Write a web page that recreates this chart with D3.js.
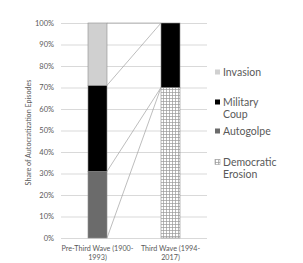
<!DOCTYPE html>
<html>
<head>
<meta charset="utf-8">
<script src="https://cdn.jsdelivr.net/npm/d3@7"></script>
<style>
  body { margin: 0; background: #fff; overflow: hidden; }
  svg { display: block; }
  svg text { font-family: Lato, "Open Sans", sans-serif; fill: #595959; }
</style>
</head>
<body>
<svg width="303" height="263"></svg>
<script>
// data
const categories = ['Pre-Third Wave (1900-1993)', 'Third Wave (1994-2017)'];
const categoryLines = [['Pre-Third Wave (1900-', '1993)'], ['Third Wave (1994-', '2017)']];
// stack order from the bottom up
const seriesNames = ['Democratic Erosion', 'Autogolpe', 'Military Coup', 'Invasion'];
const democraticErosion = [0, 70];
const autogolpe = [31, 0];
const militaryCoup = [40, 30];
const invasion = [29, 0];
const yTicks = [0, 10, 20, 30, 40, 50, 60, 70, 80, 90, 100];
// legend top-down
const legendNames = ['Invasion', 'Military Coup', 'Autogolpe', 'Democratic Erosion'];

const rows = categories.map((c, i) => ({
  category: c,
  'Democratic Erosion': democraticErosion[i],
  'Autogolpe': autogolpe[i],
  'Military Coup': militaryCoup[i],
  'Invasion': invasion[i]
}));

const fills = {
  'Invasion': '#d0d0d0',
  'Military Coup': '#000000',
  'Autogolpe': '#6b6b6b',
  'Democratic Erosion': 'url(#grid)'
};

const svg = d3.select('svg');
const margin = {top: 23, left: 61, right: 96, bottom: 25};
const width = +svg.attr('width');
const height = +svg.attr('height');
const innerWidth = width - margin.left - margin.right;
const innerHeight = height - margin.top - margin.bottom;

// grid pattern for democratic erosion
const defs = svg.append('defs');
const pat = defs.append('pattern')
  .attr('id', 'grid')
  .attr('patternUnits', 'userSpaceOnUse')
  .attr('width', 3).attr('height', 3);
pat.append('rect').attr('width', 3).attr('height', 3).attr('fill', '#fff');
pat.append('path')
  .attr('d', 'M0,0.5H3M0.5,0V3')
  .attr('stroke', '#9a9a9a').attr('stroke-width', 0.7);

const g = svg.append('g').attr('transform', `translate(${margin.left},${margin.top})`);

const x = d3.scaleBand().domain(categories).range([0, innerWidth]).padding(0);
const y = d3.scaleLinear().domain([0, 100]).range([innerHeight, 0]);
const barW = 19;
const barX = c => x(c) + (x.bandwidth() - barW) / 2;

// gridlines and y labels
const yAxis = g.append('g')
  .call(d3.axisLeft(y).tickValues(yTicks).tickFormat(d => d + '%').tickSize(-innerWidth).tickPadding(7));
yAxis.attr('font-size', 7.5).attr('font-family', null);
yAxis.select('.domain').remove();
yAxis.selectAll('.tick line').attr('stroke', '#d9d9d9').attr('stroke-width', 1);
yAxis.selectAll('.tick text').attr('fill', '#595959');

// stacked bars
const stack = d3.stack().keys(seriesNames)(rows);

g.append('g').selectAll('g')
  .data(stack)
  .enter().append('g')
    .attr('fill', s => fills[s.key])
  .selectAll('rect')
  .data(s => s.filter(d => d[1] - d[0] > 0))
  .enter().append('rect')
    .attr('x', d => barX(d.data.category))
    .attr('width', barW)
    .attr('y', d => y(d[1]))
    .attr('height', d => y(d[0]) - y(d[1]))
    .attr('stroke', '#8c8c8c')
    .attr('stroke-width', 0.6);

// series lines between the two bars
g.append('g').selectAll('line')
  .data(stack)
  .enter().append('line')
    .attr('x1', barX(categories[0]) + barW)
    .attr('x2', barX(categories[1]))
    .attr('y1', s => y(s[0][1]))
    .attr('y2', s => y(s[1][1]))
    .attr('stroke', '#a0a0a0')
    .attr('stroke-width', 0.7);

// x labels
const xl = g.append('g').attr('transform', `translate(0,${innerHeight})`);
categories.forEach((c, i) => {
  const cx = x(c) + x.bandwidth() / 2;
  categoryLines[i].forEach((line, j) => {
    xl.append('text')
      .attr('text-anchor', 'middle')
      .attr('x', cx)
      .attr('y', 12.5 + j * 9)
      .attr('font-size', 7.2)
      .text(line);
  });
});

// y title
svg.append('text')
  .attr('transform', `translate(31,${margin.top + innerHeight / 2 + 2}) rotate(-90)`)
  .attr('text-anchor', 'middle')
  .attr('font-size', 7.2)
  .text('Share of Autocratization Episodes');

// legend
const legendY = [72, 102, 131, 162];
const legend = svg.append('g');
legendNames.forEach((name, i) => {
  const lines = name.split(' ');
  const item = legend.append('g').attr('transform', `translate(215,${legendY[i]})`);
  item.append('rect')
    .attr('x', 0).attr('y', -2.5).attr('width', 5).attr('height', 5)
    .attr('fill', fills[name])
    .attr('stroke', name === 'Democratic Erosion' ? '#9a9a9a' : 'none')
    .attr('stroke-width', 0.6);
  lines.forEach((l, j) => {
    item.append('text')
      .attr('x', 8).attr('y', 3.5 + j * 12.5)
      .attr('font-size', 10.5)
      .attr('fill', '#404040')
      .text(l);
  });
});
</script>
</body>
</html>
